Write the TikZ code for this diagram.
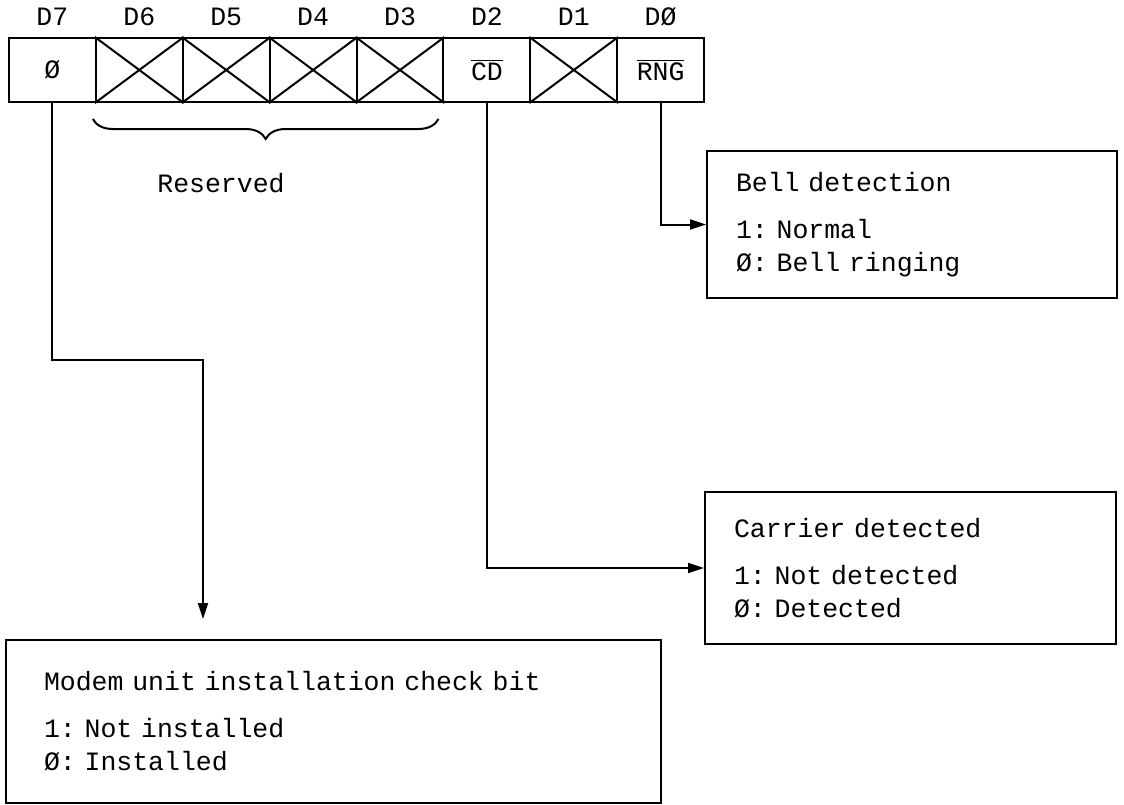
\documentclass[tikz,border=0pt]{standalone}
\usepackage{fontspec}
\setmainfont{Liberation Mono}
\usetikzlibrary{arrows.meta,decorations.pathreplacing}

% typewriter text with a full-cell word space
\newcommand\twfont{\fontsize{13.25}{16.5}\selectfont
  \spaceskip=0.6em\relax \xspaceskip=0.6em\relax \frenchspacing}
\tikzset{infobox/.style={draw, rectangle, align=left, anchor=north west, inner xsep=14.5pt}}

\begin{document}
\begin{tikzpicture}[x=0.5pt, y=-0.5pt, >={Triangle[length=8pt,width=5pt]}, line width=1pt,
  font=\twfont]
\useasboundingbox (0,0) rectangle (1124,804);
% register bits D7..D0
\foreach \n/\x/\t/\l in {7/52.4/Ø/D7, 6/139.3//D6, 5/226.2//D5, 4/313.1//D4, 3/400//D3,
  2/486.9/{$\overline{\hbox{CD}}$}/D2, 1/573.8//D1, 0/660.6/{$\overline{\hbox{RNG}}$}/DØ} {
  \node[draw, rectangle, minimum width=43.44pt, minimum height=32pt, inner sep=0pt] (c\n) at (\x,70) {\t};
  \node[anchor=base] (l\n) at (\x,25) {\l};
}
\foreach \n in {6,5,4,3,1}
  \draw (c\n.north west) -- (c\n.south east) (c\n.south west) -- (c\n.north east);
\draw[decorate, decoration={brace, mirror, amplitude=10pt}]
  ([xshift=-1pt,yshift=-8pt]c6.south west) -- ([xshift=-3pt,yshift=-8pt]c3.south east);
\node[anchor=base] (resv) at (221,192) {Reserved};

% description boxes
\node[infobox, minimum width=205pt, minimum height=73.5pt, text width=176pt] (bell) at (706,150)
  {Bell detection\\[7pt]1: Normal\\Ø: Bell ringing};
\node[infobox, minimum width=205.5pt, minimum height=76pt, text width=176.5pt] (carrier) at (704,491)
  {Carrier detected\\[7pt]1: Not detected\\Ø: Detected};
\node[infobox, inner xsep=19pt, minimum width=327.5pt, minimum height=81.5pt, text width=289.5pt] (modem) at (5,639)
  {Modem unit installation check bit\\[7pt]1: Not installed\\Ø: Installed};

% connectors
\coordinate (turn7) at (203,360);
\draw[->] (c0.south) |- (bell.west);
\draw[->] (c2.south) |- (carrier.west);
\draw[->, shorten >=10pt] (c7.south) |- (turn7) -- (turn7 |- modem.north);
\end{tikzpicture}
\end{document}
